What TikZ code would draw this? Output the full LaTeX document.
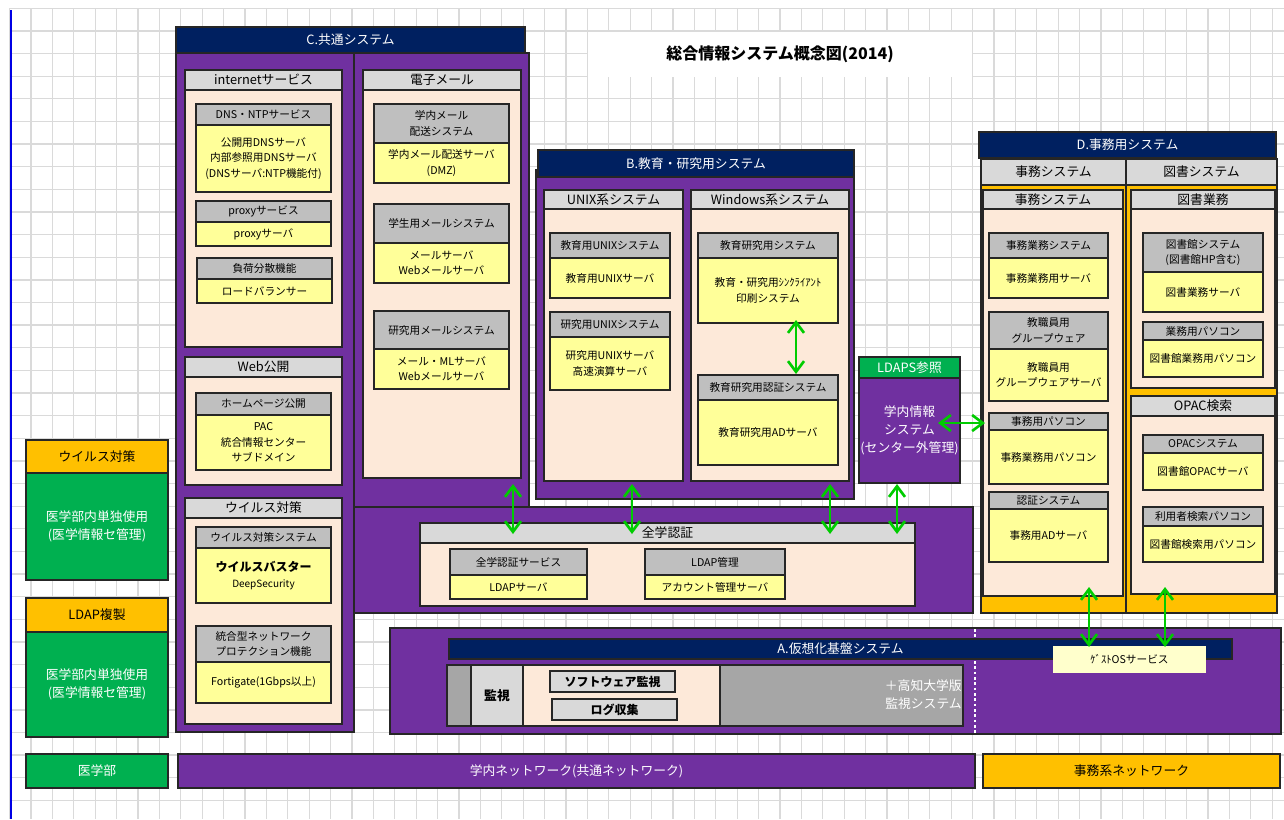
\documentclass[tikz,border=0pt]{standalone}
\usepackage{fontspec}
\setmainfont{Noto Sans CJK JP}
\usetikzlibrary{arrows.meta}
\definecolor{navyc}{HTML}{002060}
\definecolor{purpc}{HTML}{7030A0}
\definecolor{lgrey}{HTML}{D9D9D9}
\definecolor{peachc}{HTML}{FDE9D9}
\definecolor{grayc}{HTML}{BFBFBF}
\definecolor{yell}{HTML}{FFFF99}
\definecolor{greenc}{HTML}{00B050}
\definecolor{orangec}{HTML}{FFC000}
\definecolor{dgrey}{HTML}{A6A6A6}
\definecolor{lyell}{HTML}{FFFFCC}
\definecolor{gridc}{HTML}{DADADA}
\definecolor{arrowc}{HTML}{00CC00}
\newcommand\fza{\fontsize{9.6}{13.5}\selectfont}
\newcommand\fzb{\fontsize{8}{11.5}\selectfont}
\newcommand\fzt{\fontsize{12}{14}\selectfont}
\newcommand\bx[7]{\node[#2, minimum width={(#5-#3)*0.75pt}, minimum height={(#6-#4)*0.75pt}] (#1) at ({(#3+#5)/2},{(#4+#6)/2}) {#7};}
\tikzset{
  base/.style={draw=black!85, line width=0.8pt, inner sep=0pt, outer sep=0pt, align=center, font=\fzb},
  navy/.style={base, fill=navyc, text=white, font=\fza},
  purp/.style={base, fill=purpc},
  purpt/.style={base, fill=purpc, text=white, font=\fza},
  lhdr/.style={base, fill=lgrey, font=\fza},
  peach/.style={base, fill=peachc},
  ghdr/.style={base, fill=grayc},
  ybody/.style={base, fill=yell},
  greenb/.style={base, fill=greenc, text=white, font=\fza},
  orangeb/.style={base, fill=orangec, font=\fza},
  dgbox/.style={base, fill=dgrey},
  smallbox/.style={base, fill=lgrey, font=\fontsize{9}{11}\selectfont\bfseries},
  garrow/.style={arrowc, line width=2pt, {Straight Barb[length=8pt,width=12pt]}-{Straight Barb[length=8pt,width=12pt]}}
}
\begin{document}
\begin{tikzpicture}[x=0.75pt,y=-0.75pt]
\useasboundingbox (0,0) rectangle (1284,819);
\fill[white] (0,0) rectangle (1284,819);
% grid
\foreach \i in {0,...,59} \draw[gridc, line width=1pt] ({9.6+21.4*\i},8.3) -- ({9.6+21.4*\i},819);
\foreach \j in {0,...,35} \draw[gridc, line width=1pt] (10,{8.3+22.63*\j}) -- (1284,{8.3+22.63*\j});
\draw[blue!90!black, line width=1.5pt] (11,10) -- (11,819);
% title
\bx{title}{base, draw=none, fill=white, font=\fzt\bfseries}{588}{32}{972}{77}{総合情報システム概念図(2014)}
% C system
\bx{Cl}{purp}{176}{53}{354}{732}{}
\bx{Cr}{purp}{354}{53}{529}{507}{}
\bx{Ch}{navy}{176}{27}{525}{53}{C.共通システム}
\bx{inth}{lhdr}{185}{70}{342}{90}{internetサービス}
\bx{intb}{peach}{185}{90}{342}{347}{}
\bx{dnsh}{ghdr}{196}{104}{331}{125}{DNS・NTPサービス}
\bx{dnsb}{ybody}{196}{125}{331}{192}{公開用DNSサーバ\\内部参照用DNSサーバ\\(DNSサーバ:NTP機能付)}
\bx{prxh}{ghdr}{196}{201}{331}{222}{proxyサービス}
\bx{prxb}{ybody}{196}{222}{331}{246}{proxyサーバ}
\bx{lbh}{ghdr}{197}{258}{332}{279}{負荷分散機能}
\bx{lbb}{ybody}{197}{279}{332}{303}{ロードバランサー}
\bx{webh}{lhdr}{185}{357}{342}{377}{Web公開}
\bx{webb}{peach}{185}{377}{342}{485}{}
\bx{hph}{ghdr}{196}{393}{331}{415}{ホームページ公開}
\bx{hpb}{ybody}{196}{415}{331}{470}{PAC\\統合情報センター\\サブドメイン}
\bx{avh}{lhdr}{185}{498}{342}{518}{ウイルス対策}
\bx{avb}{peach}{185}{518}{342}{724}{}
\bx{avsh}{ghdr}{196}{527}{331}{548}{ウイルス対策システム}
\bx{avsb}{ybody}{196}{548}{331}{603}{{\fontsize{9}{13}\selectfont\bfseries ウイルスバスター}\\{\fontsize{7.5}{11}\selectfont DeepSecurity}}
\bx{fwh}{ghdr}{196}{626}{331}{662}{統合型ネットワーク\\プロテクション機能}
\bx{fwb}{ybody}{196}{662}{331}{703}{Fortigate(1Gbps以上)}
\bx{mlh}{lhdr}{363}{70}{521}{90}{電子メール}
\bx{mlb}{peach}{363}{90}{521}{478}{}
\bx{m1h}{ghdr}{374}{104}{509}{143}{学内メール\\配送システム}
\bx{m1b}{ybody}{374}{143}{509}{183}{学内メール配送サーバ\\(DMZ)}
\bx{m2h}{ghdr}{374}{204}{509}{243}{学生用メールシステム}
\bx{m2b}{ybody}{374}{243}{509}{283}{メールサーバ\\Webメールサーバ}
\bx{m3h}{ghdr}{374}{311}{509}{349}{研究用メールシステム}
\bx{m3b}{ybody}{374}{349}{509}{389}{メール・MLサーバ\\Webメールサーバ}
% Zengaku ninsho
\bx{zn}{purp}{354}{507}{973}{613}{}
\bx{znh}{lhdr}{420}{523}{915}{543}{全学認証}
\bx{znb}{peach}{420}{543}{915}{606}{}
\bx{z1h}{ghdr}{450}{549}{587}{575}{全学認証サービス}
\bx{z1b}{ybody}{450}{575}{587}{599}{LDAPサーバ}
\bx{z2h}{ghdr}{645}{549}{785}{575}{LDAP管理}
\bx{z2b}{ybody}{645}{575}{785}{599}{アカウント管理サーバ}
% B system
\bx{Bb}{purp}{536}{170}{854}{499}{}
\bx{Bh}{navy}{538}{150}{854}{177}{B.教育・研究用システム}
\bx{unh}{lhdr}{544}{190}{683}{209}{UNIX系システム}
\bx{unb}{peach}{544}{209}{683}{481}{}
\bx{u1h}{ghdr}{550}{233}{670}{258}{教育用UNIXシステム}
\bx{u1b}{ybody}{550}{258}{670}{298}{教育用UNIXサーバ}
\bx{u2h}{ghdr}{550}{312}{670}{337}{研究用UNIXシステム}
\bx{u2b}{ybody}{550}{337}{670}{390}{研究用UNIXサーバ\\高速演算サーバ}
\bx{wnh}{lhdr}{691}{190}{849}{209}{Windows系システム}
\bx{wnb}{peach}{691}{209}{849}{481}{}
\bx{w1h}{ghdr}{698}{233}{838}{258}{教育研究用システム}
\bx{w1b}{ybody}{698}{258}{838}{323}{教育・研究用ｼﾝｸﾗｲｱﾝﾄ\\印刷システム}
\bx{w2h}{ghdr}{698}{375}{838}{400}{教育研究用認証システム}
\bx{w2b}{ybody}{698}{400}{838}{465}{教育研究用ADサーバ}
% LDAPS
\bx{ldh}{greenb}{859}{357}{960}{378}{LDAPS参照}
\bx{ldb}{purpt}{859}{378}{960}{483}{学内情報\\システム\\(センター外管理)}
% D system
\bx{Dh}{navy}{979}{132}{1276}{158}{D.事務用システム}
\bx{jh}{lhdr}{981}{159}{1126}{185}{事務システム}
\bx{th}{lhdr}{1126}{159}{1277}{185}{図書システム}
\bx{jo}{orangeb}{981}{185}{1126}{613}{}
\bx{to}{orangeb}{1126}{185}{1277}{613}{}
\bx{j2h}{lhdr}{983}{190}{1123}{209}{事務システム}
\bx{j2b}{peach}{983}{209}{1123}{596}{}
\bx{j1h}{ghdr}{989}{233}{1108}{258}{事務業務システム}
\bx{j1b}{ybody}{989}{258}{1108}{298}{事務業務用サーバ}
\bx{jgh}{ghdr}{989}{312}{1108}{349}{教職員用\\グループウェア}
\bx{jgb}{ybody}{989}{349}{1108}{401}{教職員用\\グループウェアサーバ}
\bx{jph}{ghdr}{989}{413}{1108}{430}{事務用パソコン}
\bx{jpb}{ybody}{989}{430}{1108}{484}{事務業務用パソコン}
\bx{jah}{ghdr}{989}{492}{1108}{509}{認証システム}
\bx{jab}{ybody}{989}{509}{1108}{562}{事務用ADサーバ}
\bx{t2h}{lhdr}{1131}{190}{1275}{209}{図書業務}
\bx{t2b}{peach}{1131}{209}{1275}{388}{}
\bx{t1h}{ghdr}{1143}{233}{1263}{272}{図書館システム\\(図書館HP含む)}
\bx{t1b}{ybody}{1143}{272}{1263}{312}{図書業務サーバ}
\bx{tph}{ghdr}{1143}{322}{1263}{340}{業務用パソコン}
\bx{tpb}{ybody}{1143}{340}{1263}{377}{図書館業務用パソコン}
\bx{oh}{lhdr}{1131}{396}{1275}{416}{OPAC検索}
\bx{ob}{peach}{1131}{416}{1275}{594}{}
\bx{o1h}{ghdr}{1143}{435}{1263}{453}{OPACシステム}
\bx{o1b}{ybody}{1143}{453}{1263}{490}{図書館OPACサーバ}
\bx{o2h}{ghdr}{1143}{507}{1263}{526}{利用者検索パソコン}
\bx{o2b}{ybody}{1143}{526}{1263}{562}{図書館検索用パソコン}
% left column
\bx{lv1}{orangeb}{26}{440}{168}{473}{ウイルス対策}
\bx{lv2}{greenb}{26}{473}{168}{580}{医学部内単独使用\\(医学情報セ管理)}
\bx{ll1}{orangeb}{26}{598}{168}{632}{LDAP複製}
\bx{ll2}{greenb}{26}{632}{168}{737}{医学部内単独使用\\(医学情報セ管理)}
% networks
\bx{nw1}{greenb}{26}{754}{168}{788}{医学部}
\bx{nw2}{purpt}{178}{754}{975}{788}{学内ネットワーク(共通ネットワーク)}
\bx{nw3}{orangeb}{983}{754}{1280}{788}{事務系ネットワーク}
% A system
\bx{Ab}{purp}{390}{628}{1281}{734}{}
\coordinate (dvt) at (975,629);
\coordinate (dvb) at (975,733);
\draw[white, line width=1pt, dash pattern=on 2pt off 2pt] (dvt) -- (dvb);
\bx{Ah}{navy}{449}{639}{1232}{659}{A.仮想化基盤システム}
\bx{mon}{dgbox}{447}{665}{963}{726}{}
\bx{monl}{lhdr}{471}{665}{523}{726}{\bfseries 監視}
\bx{monp}{peach}{523}{665}{720}{726}{}
\bx{sw}{smallbox}{550}{671}{675}{692}{ソフトウェア監視}
\bx{lg}{smallbox}{552}{699}{677}{720}{ログ収集}
\node[anchor=east, align=right, text=white, font=\fza, inner sep=0pt] (kochi) at (962,695) {＋高知大学版\\監視システム};
\bx{gos}{base, draw=none, fill=lyell}{1053}{646}{1206}{673}{ｹﾞｽﾄOSサービス}
% arrows
\coordinate (a1t) at (796,320); \coordinate (a1b) at (796,374);
\coordinate (a2l) at (938,423); \coordinate (a2r) at (985,423);
\coordinate (a3t) at (513,484); \coordinate (a3b) at (513,534);
\coordinate (a4t) at (632,484); \coordinate (a4b) at (632,534);
\coordinate (a5t) at (830,484); \coordinate (a5b) at (830,534);
\coordinate (a6t) at (897,484); \coordinate (a6b) at (897,534);
\coordinate (a7t) at (1089,587); \coordinate (a7b) at (1089,647);
\coordinate (a8t) at (1165,587); \coordinate (a8b) at (1165,647);
\draw[garrow] (a1t) -- (a1b);
\draw[garrow] (a2l) -- (a2r);
\draw[garrow] (a3t) -- (a3b);
\draw[garrow] (a4t) -- (a4b);
\draw[garrow] (a5t) -- (a5b);
\draw[garrow] (a6t) -- (a6b);
\draw[garrow] (a7t) -- (a7b);
\draw[garrow] (a8t) -- (a8b);
\end{tikzpicture}
\end{document}
